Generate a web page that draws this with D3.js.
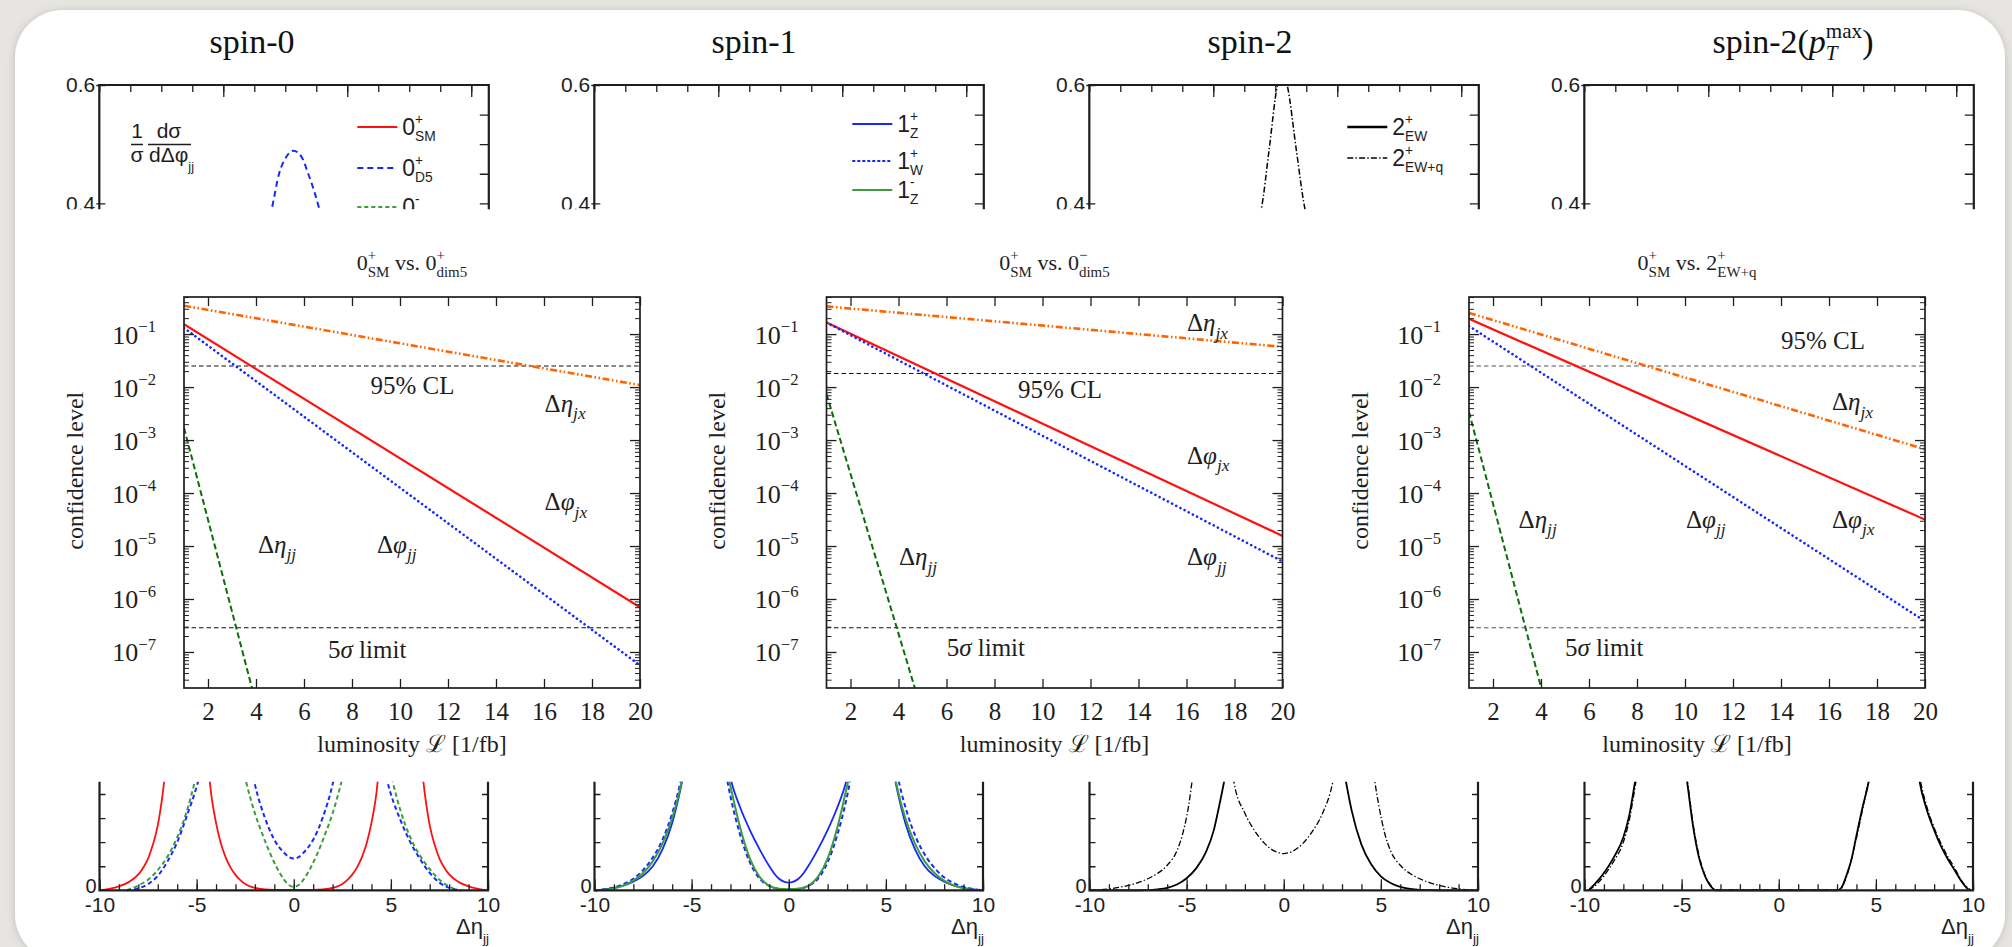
<!DOCTYPE html>
<html><head><meta charset="utf-8">
<script src="https://cdn.jsdelivr.net/npm/d3@7"></script>
<style>html,body{margin:0;padding:0;background:#e7e5e2;overflow:hidden}</style>
</head><body>
<svg id="c" width="2012" height="947"></svg>
<script>
// ---------------- DATA ----------------
// top row: (1/sigma) dsigma/dDelta-phi_jj, only the 0.4-0.6 window is visible
const phiTicksMajor = [1, 2, 3];
const topYTicks = [0.4, 0.6];
const spin0PhiD5 = [[1.30,0.33],[1.39,0.39],[1.45,0.45],[1.51,0.479],[1.565,0.489],[1.63,0.479],[1.685,0.45],[1.74,0.416],[1.80,0.37]];
const spin2PhiEWq = [[1.35,0.36],[1.389,0.392],[1.45,0.49],[1.515,0.597],[1.557,0.625],[1.599,0.597],[1.67,0.49],[1.738,0.392],[1.78,0.36]];

// middle row: confidence level vs luminosity
const lumi = [1, 20];
const lumiTicks = [2,4,6,8,10,12,14,16,18,20];
const clDecades = [1e-1,1e-2,1e-3,1e-4,1e-5,1e-6,1e-7];
const cl95 = [0.025, 0.018, 0.025];
const fiveSigma = 2.87e-7;
const p1EtaJX = [0.343, 0.0109], p1PhiJX = [0.153, 7.0e-7], p1PhiJJ = [0.131, 5.6e-8];
const p1EtaJJLumi = [1, 4], p1EtaJJ = [1.7e-3, 1.07e-8];
const p2EtaJX = [0.333, 0.0575], p2PhiJX = [0.165, 1.55e-5], p2PhiJJ = [0.165, 5.1e-6];
const p2EtaJJLumi = [1, 5], p2EtaJJ = [7.4e-3, 6.9e-9];
const p3EtaJX = [0.251, 6.7e-4], p3PhiJX = [0.194, 3.15e-5], p3PhiJJ = [0.142, 3.8e-7];
const p3EtaJJLumi = [1, 4.2], p3EtaJJ = [3.4e-3, 9.8e-9];

// bottom row: dsigma/dDelta-eta_jj (lower part only)
const etaTickLabels = [-10,-5,0,5,10];
const etaYTicks = [0.05,0.1,0.15,0.2];
const s0SM = [[-10,0],[-9.5,0.003],[-9,0.008],[-8.5,0.017],[-8,0.033],[-7.75,0.047],[-7.5,0.066],[-7.25,0.095],[-7,0.135],[-6.75,0.2],[-6.5,0.29],[-5.5,0.5],[-4.5,0.3],[-4.25,0.2],[-4,0.14],[-3.75,0.097],[-3.5,0.068],[-3.25,0.047],[-3,0.032],[-2.75,0.021],[-2.5,0.013],[-2.25,0.008],[-2,0.005],[-1.5,0.002],[-1,0.001],[0,0.001],[1,0.001],[1.5,0.002],[2,0.005],[2.25,0.008],[2.5,0.013],[2.75,0.021],[3,0.032],[3.25,0.047],[3.5,0.068],[3.75,0.097],[4,0.14],[4.25,0.2],[4.5,0.3],[5.5,0.5],[6.5,0.29],[6.75,0.2],[7,0.135],[7.25,0.095],[7.5,0.066],[7.75,0.047],[8,0.033],[8.5,0.017],[9,0.008],[9.5,0.003],[10,0]];
const s0D5 = [[-8.6,0],[-8,0.004],[-7.5,0.013],[-7,0.03],[-6.5,0.06],[-6,0.1],[-5.5,0.155],[-5,0.215],[-4.7,0.26],[-3.5,0.5],[-2.3,0.28],[-2,0.22],[-1.5,0.152],[-1,0.105],[-0.5,0.078],[-0.25,0.069],[0,0.066],[0.25,0.069],[0.5,0.078],[1,0.105],[1.5,0.152],[2,0.22],[2.3,0.28],[3.5,0.5],[4.6,0.26],[5,0.2],[5.5,0.145],[6,0.1],[6.5,0.065],[7,0.036],[7.5,0.016],[8,0.005],[8.6,0]];
const s0D5m = [[-8.6,0],[-8,0.01],[-7.5,0.022],[-7,0.042],[-6.5,0.07],[-6,0.11],[-5.5,0.165],[-5.1,0.225],[-4.8,0.28],[-3.6,0.5],[-2.7,0.27],[-2.45,0.225],[-2,0.16],[-1.6,0.115],[-1.2,0.075],[-0.87,0.047],[-0.5,0.022],[-0.25,0.011],[0,0.007],[0.25,0.011],[0.5,0.022],[0.87,0.047],[1.2,0.075],[1.6,0.115],[2,0.16],[2.45,0.225],[2.7,0.27],[3.6,0.5],[4.8,0.28],[5.1,0.225],[5.5,0.165],[6,0.11],[6.5,0.072],[7,0.044],[7.5,0.022],[8,0.008],[8.4,0]];
const s1Zp = [[-10,0],[-9.5,0.002],[-9,0.005],[-8.5,0.01],[-8,0.018],[-7.5,0.03],[-7,0.05],[-6.5,0.085],[-6,0.14],[-5.6,0.205],[-5.3,0.265],[-4.3,0.5],[-3.2,0.27],[-2.95,0.225],[-2.5,0.172],[-2,0.125],[-1.5,0.085],[-1,0.05],[-0.75,0.035],[-0.5,0.024],[-0.25,0.018],[0,0.016],[0.25,0.018],[0.5,0.024],[0.75,0.035],[1,0.05],[1.5,0.085],[2,0.125],[2.5,0.172],[2.95,0.225],[3.2,0.27],[4.3,0.5],[5.3,0.265],[5.6,0.205],[6,0.14],[6.5,0.085],[7,0.05],[7.5,0.03],[8,0.018],[8.5,0.01],[9,0.005],[9.5,0.002],[10,0]];
const s1Wp = [[-10,0],[-9.5,0.002],[-9,0.006],[-8.5,0.013],[-8,0.024],[-7.5,0.042],[-7,0.068],[-6.5,0.105],[-6,0.16],[-5.6,0.22],[-5.3,0.28],[-4.3,0.5],[-3.4,0.28],[-3.15,0.225],[-3,0.195],[-2.5,0.115],[-2,0.058],[-1.5,0.024],[-1,0.009],[-0.5,0.003],[0,0.002],[0.5,0.003],[1,0.009],[1.5,0.024],[2,0.058],[2.5,0.115],[3,0.195],[3.15,0.225],[3.4,0.28],[4.3,0.5],[5.4,0.28],[5.7,0.22],[6.1,0.16],[6.6,0.105],[7.1,0.068],[7.6,0.042],[8.1,0.024],[8.6,0.013],[9.1,0.006],[9.6,0.002],[10,0]];
const s1Zm = [[-10,0],[-9.5,0.001],[-9,0.004],[-8.5,0.01],[-8,0.02],[-7.5,0.036],[-7,0.06],[-6.5,0.097],[-6,0.15],[-5.6,0.21],[-5.3,0.27],[-4.3,0.5],[-3.3,0.27],[-3.05,0.225],[-2.5,0.13],[-2,0.066],[-1.5,0.028],[-1,0.009],[-0.5,0.003],[0,0.002],[0.5,0.003],[1,0.009],[1.5,0.028],[2,0.066],[2.5,0.13],[3.05,0.225],[3.3,0.27],[4.3,0.5],[5.3,0.27],[5.6,0.21],[6,0.15],[6.5,0.097],[7,0.06],[7.5,0.036],[8,0.02],[8.5,0.01],[9,0.004],[9.5,0.001],[10,0]];
const s2EW = [[-10,0],[-8,0],[-7,0.0005],[-6.5,0.002],[-6,0.005],[-5.5,0.012],[-5,0.025],[-4.5,0.046],[-4,0.08],[-3.6,0.125],[-3.3,0.18],[-3.07,0.226],[-2.8,0.29],[0,0.7],[2.9,0.29],[3.2,0.226],[3.5,0.165],[4,0.095],[4.5,0.054],[5,0.029],[5.5,0.015],[6,0.007],[6.5,0.003],[7,0.001],[8,0],[10,0]];
const s2EWq = [[-10,0],[-9.5,0.001],[-9,0.003],[-8.5,0.006],[-8,0.01],[-7.5,0.016],[-7,0.024],[-6.5,0.035],[-6,0.052],[-5.5,0.082],[-5.2,0.118],[-4.9,0.175],[-4.72,0.226],[-4.5,0.29],[-3.6,0.5],[-2.8,0.29],[-2.57,0.226],[-2,0.16],[-1.5,0.124],[-1,0.098],[-0.5,0.082],[-0.25,0.078],[0,0.076],[0.25,0.078],[0.5,0.082],[1,0.098],[1.5,0.124],[2,0.16],[2.53,0.226],[2.8,0.29],[3.6,0.5],[4.5,0.29],[4.69,0.226],[4.9,0.175],[5.2,0.118],[5.5,0.082],[6,0.052],[6.5,0.035],[7,0.024],[7.5,0.016],[8,0.01],[8.5,0.006],[9,0.003],[9.5,0.001],[10,0]];
const s3EW = [[-9.8,0],[-9.5,0.012],[-9,0.036],[-8.5,0.068],[-8,0.11],[-7.7,0.155],[-7.4,0.225],[-7.1,0.3],[-6,0.5],[-5,0.3],[-4.72,0.226],[-4.4,0.13],[-4.12,0.07],[-3.85,0.035],[-3.6,0.014],[-3.4,0.004],[-3.26,0],[0,0],[3,0],[3.2,0.004],[3.52,0.035],[3.75,0.065],[3.95,0.104],[4.3,0.17],[4.63,0.226],[4.9,0.3],[6,0.5],[7,0.3],[7.25,0.226],[7.6,0.17],[8,0.125],[8.37,0.09],[8.7,0.065],[9.05,0.042],[9.35,0.022],[9.65,0.006],[9.8,0]];
const s3EWq = [[-9.8,0],[-9.5,0.008],[-9,0.03],[-8.5,0.06],[-8,0.1],[-7.7,0.145],[-7.35,0.226],[-7.05,0.3],[-6,0.5],[-5,0.3],[-4.7,0.226],[-4.4,0.135],[-4.1,0.072],[-3.8,0.032],[-3.5,0.01],[-3.25,0.001],[0,0.001],[3.1,0.001],[3.5,0.03],[3.95,0.1],[4.3,0.165],[4.6,0.226],[4.9,0.3],[6,0.5],[7,0.3],[7.3,0.226],[7.65,0.17],[8,0.13],[8.5,0.085],[9,0.05],[9.5,0.015],[9.9,0]];

// ---------------- STYLE / LAYOUT ----------------
const SERIF = "'Liberation Serif','DejaVu Serif',serif";
const SANS = "'Liberation Sans','DejaVu Sans',sans-serif";
const INK = "#1e1e1e";
const RED = "#ff1010", BLUE = "#1428ff", GREEN_D = "#0a6e0a", ORANGE = "#ff6400";
const GREEN_L = "#3d9d3d";
const DASHDOT = "6,2.2,1.4,2.2";

const svg = d3.select("#c");
const defs = svg.append("defs");
const f = defs.append("filter").attr("id","sh").attr("x","-5%").attr("y","-5%").attr("width","110%").attr("height","110%");
f.append("feDropShadow").attr("dx",0).attr("dy",1).attr("stdDeviation",4).attr("flood-color","#000").attr("flood-opacity",0.18);

svg.append("rect").attr("width",2012).attr("height",947).attr("fill","#e7e5e2");
svg.append("rect").attr("x",15).attr("y",10).attr("width",1990).attr("height",952).attr("rx",48).attr("fill","#fff").attr("filter","url(#sh)");

// rich text helper (sup/sub stacked)
function rich(parent, x, y, segs, o) {
  const size = o.size, small = (o.small || 0.64) * size;
  const supS = -(o.supShift ?? 0.42) * size, subS = (o.subShift ?? 0.25) * size;
  const t = parent.append("text").attr("x", x).attr("y", y)
    .attr("font-family", o.family).attr("font-size", size)
    .attr("text-anchor", o.anchor || "start").attr("fill", o.fill || INK);
  let off = 0, pend = 0;
  const add = (txt, d, fs, it, dx) => {
    const ts = t.append("tspan").text(txt).attr("font-size", fs).attr("dy", d - off);
    if (it) ts.attr("font-style", "italic");
    if (dx) ts.attr("dx", dx);
    off = d; return ts;
  };
  for (const s of segs) {
    if (s.t) { add(s.t, 0, size, s.it, pend); pend = 0; }
    let wsup = 0;
    if (s.sup) { const a = add(s.sup, supS, small, s.supIt, pend); pend = 0; wsup = a.node().getComputedTextLength(); }
    if (s.sub) {
      const b = add(s.sub, subS, small, s.subIt, s.sup ? -wsup : pend); pend = 0;
      const wsub = b.node().getComputedTextLength();
      if (s.sup && wsup > wsub) pend = wsup - wsub;
    }
  }
  return t;
}
function styleAxis(g, w) {
  g.select(".domain").remove();
  g.selectAll(".tick text").filter(function() { return !this.textContent; }).remove();
  g.selectAll(".tick line").attr("stroke", INK).attr("stroke-width", w || 1.3);
  return g;
}

// ---------------- TITLES ----------------
const titles = [
  {cx: 252, segs: [{t:"spin-0"}]},
  {cx: 754, segs: [{t:"spin-1"}]},
  {cx: 1250, segs: [{t:"spin-2"}]},
  {cx: 1793, segs: [{t:"spin-2("},{t:"p",it:true,sup:"max",sub:"T",subIt:true},{t:")"}]}
];
titles.forEach(d => rich(svg, d.cx, 53, d.segs, {size:34, family:SERIF, anchor:"middle", fill:"#111", supShift:0.45, subShift:0.22, small:0.62}));

// ---------------- TOP ROW ----------------
const topL = [99.3, 594.3, 1089.3, 1584.3], topW = 389.5;
defs.append("clipPath").attr("id","clipTop").append("rect").attr("x",0).attr("y",0).attr("width",2012).attr("height",209.3);
const gTop = svg.append("g").attr("clip-path","url(#clipTop)");
const topLegends = [
  [{lab:{t:"0",sup:"+",sub:"SM"}, c:RED, dash:null, w:2, y:127},
   {lab:{t:"0",sup:"+",sub:"D5"}, c:BLUE, dash:"6,4", w:2, y:168},
   {lab:{t:"0",sup:"-",sub:"D5"}, c:GREEN_L, dash:"4,3", w:2, y:207}],
  [{lab:{t:"1",sup:"+",sub:"Z"}, c:BLUE, dash:null, w:2, y:124},
   {lab:{t:"1",sup:"+",sub:"W"}, c:BLUE, dash:"3,2", w:2, y:161},
   {lab:{t:"1",sup:"-",sub:"Z"}, c:GREEN_L, dash:null, w:2, y:190}],
  [{lab:{t:"2",sup:"+",sub:"EW"}, c:"#000", dash:null, w:2.6, y:127},
   {lab:{t:"2",sup:"+",sub:"EW+q"}, c:"#000", dash:DASHDOT, w:1.4, y:158}],
  []
];
const topCurves = [
  [{d: spin0PhiD5, c: BLUE, dash:"6,4", w:2}],
  [],
  [{d: spin2PhiEWq, c:"#000", dash:DASHDOT, w:1.5}],
  []
];
topL.forEach((L, i) => {
  const R = L + topW;
  const x = d3.scaleLinear([0, Math.PI], [L, R]);
  const y = d3.scaleLinear([0.4, 0.6], [203.3, 85]);
  const g = gTop.append("g");
  defs.append("clipPath").attr("id","clipTopIn"+i).append("rect").attr("x",L).attr("y",85).attr("width",topW).attr("height",130);
  const line = d3.line().x(d => x(d[0])).y(d => y(d[1])).curve(d3.curveMonotoneX);
  const gc = g.append("g").attr("clip-path",`url(#clipTopIn${i})`);
  topCurves[i].forEach(s => gc.append("path").attr("d", line(s.d)).attr("fill","none").attr("stroke", s.c)
     .attr("stroke-width", s.w).attr("stroke-dasharray", s.dash));
  styleAxis(g.append("g").attr("transform","translate(0,85)").call(d3.axisBottom(x).tickValues(d3.range(0, 3.15, 0.25)).tickSize(7).tickFormat("")));
  styleAxis(g.append("g").attr("transform","translate(0,85)").call(d3.axisBottom(x).tickValues(phiTicksMajor).tickSize(12).tickFormat("")));
  styleAxis(g.append("g").attr("transform",`translate(${R},0)`).call(d3.axisLeft(y).tickValues([0.4,0.45,0.5,0.55]).tickSize(9).tickFormat("")));
  styleAxis(g.append("g").attr("transform",`translate(${L},0)`).call(d3.axisRight(y).tickValues(topYTicks).tickSize(6).tickFormat("")));
  const la = styleAxis(g.append("g").attr("transform",`translate(${L},0)`).call(d3.axisLeft(y).tickValues(topYTicks).tickSize(3).tickPadding(1).tickFormat(d3.format(".1f"))));
  la.selectAll("text").attr("font-family", SANS).attr("font-size", 21).attr("fill", INK);
  g.append("path").attr("d",`M${L},215V85H${R}V215`).attr("fill","none").attr("stroke",INK).attr("stroke-width",2.2);
  topLegends[i].forEach(it => {
    g.append("line").attr("x1", L+258).attr("x2", L+298).attr("y1", it.y).attr("y2", it.y)
      .attr("stroke", it.c).attr("stroke-width", it.w).attr("stroke-dasharray", it.dash);
    rich(g, L+303, it.y+8, [it.lab], {size:23, family:SANS, small:0.6, supShift:0.48, subShift:0.27});
  });
  if (i === 0) {
    rich(g, 137, 138, [{t:"1"}], {size:21, family:SANS, anchor:"middle"});
    rich(g, 137, 162, [{t:"σ"}], {size:21, family:SANS, anchor:"middle"});
    rich(g, 169, 138, [{t:"dσ"}], {size:21, family:SANS, anchor:"middle"});
    rich(g, 149, 162, [{t:"dΔφ", sub:"jj"}], {size:21, family:SANS, small:0.6, subShift:0.45});
    g.append("line").attr("x1",131).attr("x2",143).attr("y1",144.5).attr("y2",144.5).attr("stroke",INK).attr("stroke-width",1.3);
    g.append("line").attr("x1",148).attr("x2",191).attr("y1",144.5).attr("y2",144.5).attr("stroke",INK).attr("stroke-width",1.3);
  }
});

// ---------------- MIDDLE ROW ----------------
const midL = [184, 826.5, 1469], midW = 456, midTop = 297, midBot = 688;
const midTitles = [
  [{t:"0",sup:"+",sub:"SM"},{t:" vs. 0",sup:"+",sub:"dim5"}],
  [{t:"0",sup:"+",sub:"SM"},{t:" vs. 0",sup:"−",sub:"dim5"}],
  [{t:"0",sup:"+",sub:"SM"},{t:" vs. 2",sup:"+",sub:"EW+q"}]
];
const midSeries = [
  [{xs:lumi, ys:p1EtaJX, c:ORANGE, dash:"7,2.5,1.6,2.5,1.6,2.5", w:2.6},
   {xs:lumi, ys:p1PhiJX, c:RED, dash:null, w:2.2},
   {xs:lumi, ys:p1PhiJJ, c:BLUE, dash:"0.1,4.6", w:2.6, cap:"round"},
   {xs:p1EtaJJLumi, ys:p1EtaJJ, c:GREEN_D, dash:"6,3.2", w:2}],
  [{xs:lumi, ys:p2EtaJX, c:ORANGE, dash:"7,2.5,1.6,2.5,1.6,2.5", w:2.6},
   {xs:lumi, ys:p2PhiJX, c:RED, dash:null, w:2.2},
   {xs:lumi, ys:p2PhiJJ, c:BLUE, dash:"0.1,4.6", w:2.6, cap:"round"},
   {xs:p2EtaJJLumi, ys:p2EtaJJ, c:GREEN_D, dash:"6,3.2", w:2}],
  [{xs:lumi, ys:p3EtaJX, c:ORANGE, dash:"7,2.5,1.6,2.5,1.6,2.5", w:2.6},
   {xs:lumi, ys:p3PhiJX, c:RED, dash:null, w:2.2},
   {xs:lumi, ys:p3PhiJJ, c:BLUE, dash:"0.1,4.6", w:2.6, cap:"round"},
   {xs:p3EtaJJLumi, ys:p3EtaJJ, c:GREEN_D, dash:"6,3.2", w:2}]
];
const D = {t:"Δ"};
const etaJX = [D,{t:"η",it:true,sub:"jx",subIt:true}], phiJX = [D,{t:"φ",it:true,sub:"jx",subIt:true}];
const etaJJ = [D,{t:"η",it:true,sub:"jj",subIt:true}], phiJJ = [D,{t:"φ",it:true,sub:"jj",subIt:true}];
const CL = [{t:"95% CL"}], SIG = [{t:"5"},{t:"σ",it:true},{t:" limit"}];
const midLabels = [
  [[186.5,97,CL],[360.6,114.8,etaJX],[360.6,213,phiJX],[74,255.8,etaJJ],[193,255.8,phiJJ],[144,361.2,SIG]],
  [[191.5,100.5,CL],[360.5,34.4,etaJX],[360.5,166.5,phiJX],[72.5,268.3,etaJJ],[360.5,268.3,phiJJ],[120.2,359.4,SIG]],
  [[312,52.3,CL],[363,113,etaJX],[217,230.8,phiJJ],[363,230.8,phiJX],[49.6,230.8,etaJJ],[96,359.4,SIG]]
];
const minorLog = [];
for (let k = -8; k <= -1; k++) for (let m = 2; m <= 9; m++) minorLog.push(m * Math.pow(10, k));

midL.forEach((L, i) => {
  const R = L + midW;
  const x = d3.scaleLinear(lumi, [L, R]);
  const y = d3.scaleLog([Math.pow(10,-7.68), Math.pow(10,-0.3)], [midBot, midTop]);
  const minors = minorLog.filter(v => v > y.domain()[0] && v < y.domain()[1]);
  defs.append("clipPath").attr("id","clipMid"+i).append("rect").attr("x",L).attr("y",midTop).attr("width",midW).attr("height",midBot-midTop);
  const g = svg.append("g");
  const gc = g.append("g").attr("clip-path",`url(#clipMid${i})`);
  [cl95[i], fiveSigma].forEach(v => gc.append("path").attr("d", d3.line()([[x(lumi[0]), y(v)],[x(lumi[1]), y(v)]]))
      .attr("stroke", i === 2 ? "#555" : "#111").attr("stroke-width", 1.1).attr("stroke-dasharray","4.5,3").attr("fill","none"));
  const line = d3.line().x(d => x(d[0])).y(d => y(d[1]));
  midSeries[i].forEach(s => gc.append("path").attr("d", line(s.xs.map((v, j) => [v, s.ys[j]])))
      .attr("fill","none").attr("stroke", s.c).attr("stroke-width", s.w).attr("stroke-dasharray", s.dash)
      .attr("stroke-linecap", s.cap || "butt"));
  styleAxis(g.append("g").attr("transform",`translate(0,${midBot})`).call(d3.axisTop(x).tickValues(lumiTicks).tickSize(9).tickFormat("")));
  styleAxis(g.append("g").attr("transform",`translate(0,${midTop})`).call(d3.axisBottom(x).tickValues(lumiTicks).tickSize(9).tickFormat("")));
  styleAxis(g.append("g").attr("transform",`translate(${L},0)`).call(d3.axisRight(y).tickValues(clDecades).tickSize(10).tickFormat("")));
  styleAxis(g.append("g").attr("transform",`translate(${L},0)`).call(d3.axisRight(y).tickValues(minors).tickSize(5).tickFormat("")), 1);
  styleAxis(g.append("g").attr("transform",`translate(${R},0)`).call(d3.axisLeft(y).tickValues(clDecades).tickSize(10).tickFormat("")));
  styleAxis(g.append("g").attr("transform",`translate(${R},0)`).call(d3.axisLeft(y).tickValues(minors).tickSize(5).tickFormat("")), 1);
  const xl = g.append("g").attr("transform",`translate(0,${midBot})`).call(d3.axisBottom(x).tickValues(lumiTicks).tickSize(0).tickPadding(14));
  xl.select(".domain").remove();
  xl.selectAll("text").attr("font-family", SERIF).attr("font-size", 25).attr("fill", INK);
  const yl = g.append("g").attr("transform",`translate(${L},0)`).call(d3.axisLeft(y).tickValues(clDecades).tickSize(0).tickFormat(""));
  yl.select(".domain").remove();
  yl.selectAll(".tick text").remove();
  yl.selectAll(".tick").each(function(d) {
    rich(d3.select(this), -28, 9, [{t:"10", sup:"−" + Math.round(-Math.log10(d))}], {size:26, family:SERIF, anchor:"end", small:0.64, supShift:0.45});
  });
  g.append("rect").attr("x",L).attr("y",midTop).attr("width",midW).attr("height",midBot-midTop)
    .attr("fill","none").attr("stroke",INK).attr("stroke-width",1.7);
  g.append("text").attr("transform",`translate(${L-109.5},470.7) rotate(-90)`).attr("text-anchor","middle").attr("dy","0.35em")
    .attr("font-family",SERIF).attr("font-size",24).attr("fill",INK).text("confidence level");
  g.append("text").attr("x", L + midW/2).attr("y", 752).attr("text-anchor","middle")
    .attr("font-family",SERIF).attr("font-size",24).attr("fill",INK).text("luminosity ℒ [1/fb]");
  rich(g, L + midW/2, 270, midTitles[i], {size:22, family:SERIF, anchor:"middle", small:0.68, supShift:0.45, subShift:0.3});
  midLabels[i].forEach(([dx, dy, segs]) => rich(g, L + dx, midTop + dy, segs, {size:25, family:SERIF, small:0.7, subShift:0.3}));
});

// ---------------- BOTTOM ROW ----------------
const botL = [99.5, 594.5, 1089.5, 1584.5], botW = 388.5, botZero = 890.3, botTop = 781.7;
defs.append("clipPath").attr("id","clipBot").append("rect").attr("x",0).attr("y",botTop).attr("width",2012).attr("height",200);
const gBot = svg.append("g").attr("clip-path","url(#clipBot)");
const botSeries = [
  [{d:s0SM, c:RED, dash:null, w:1.8},{d:s0D5m, c:GREEN_L, dash:"4.5,3", w:2},{d:s0D5, c:BLUE, dash:"4.5,3", w:2}],
  [{d:s1Zp, c:BLUE, dash:null, w:1.8},{d:s1Wp, c:BLUE, dash:"4.5,3", w:2},{d:s1Zm, c:GREEN_L, dash:null, w:2}],
  [{d:s2EW, c:"#000", dash:null, w:1.8},{d:s2EWq, c:"#000", dash:DASHDOT, w:1.3}],
  [{d:s3EWq, c:"#000", dash:DASHDOT, w:1.3},{d:s3EW, c:"#000", dash:null, w:1.8}]
];
botL.forEach((L, i) => {
  const R = L + botW;
  const x = d3.scaleLinear([-10, 10], [L, R]);
  const y = d3.scaleLinear([0, 0.2256], [botZero, botTop]);
  const g = gBot.append("g");
  const line = d3.line().x(d => x(d[0])).y(d => y(d[1])).curve(d3.curveMonotoneX);
  botSeries[i].forEach(s => g.append("path").attr("d", line(s.d)).attr("fill","none").attr("stroke", s.c)
     .attr("stroke-width", s.w).attr("stroke-dasharray", s.dash));
  styleAxis(g.append("g").attr("transform",`translate(0,${botZero})`).call(d3.axisTop(x).tickValues(d3.range(-10, 11, 1)).tickSize(6).tickFormat("")));
  styleAxis(g.append("g").attr("transform",`translate(0,${botZero})`).call(d3.axisTop(x).tickValues(etaTickLabels).tickSize(11).tickFormat("")));
  styleAxis(g.append("g").attr("transform",`translate(${L},0)`).call(d3.axisRight(y).tickValues(etaYTicks).tickSize(6).tickFormat("")));
  styleAxis(g.append("g").attr("transform",`translate(${R},0)`).call(d3.axisLeft(y).tickValues(etaYTicks).tickSize(6).tickFormat("")));
  const xl = g.append("g").attr("transform",`translate(0,${botZero})`).call(d3.axisBottom(x).tickValues(etaTickLabels).tickSize(0).tickPadding(7).tickFormat(d => String(d)));
  xl.select(".domain").remove();
  xl.selectAll("text").attr("font-family", SANS).attr("font-size", 21).attr("fill", INK);
  const yl = g.append("g").attr("transform",`translate(${L},-4)`).call(d3.axisLeft(y).tickValues([0]).tickSize(0).tickPadding(3).tickFormat(d => String(d)));
  styleAxis(yl);
  yl.selectAll("text").attr("font-family", SANS).attr("font-size", 20).attr("fill", INK);
  g.append("path").attr("d",`M${L},770V${botZero}H${R}V770`).attr("fill","none").attr("stroke",INK).attr("stroke-width",2.2);
  rich(g, R + 1, 934, [{t:"Δη", sub:"jj"}], {size:22, family:SANS, anchor:"end", small:0.62, subShift:0.4});
});
</script>
</body></html>
